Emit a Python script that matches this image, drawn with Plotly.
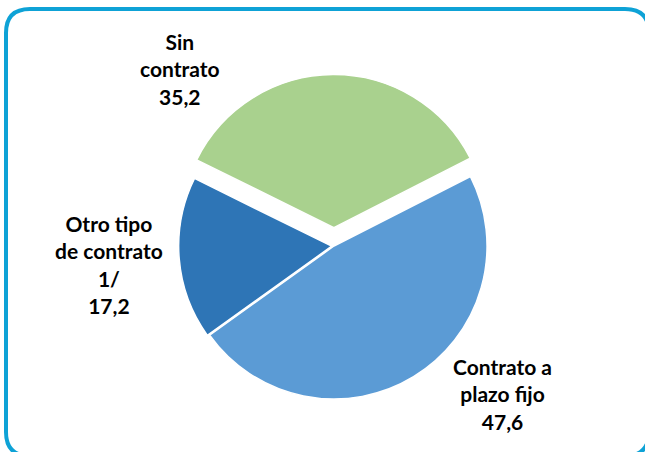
import plotly.graph_objects as go

# ---- data ----
labels = ["Contrato a plazo fijo", "Otro tipo de contrato 1/", "Sin contrato"]
values = [47.6, 17.2, 35.2]
label_lines = ["Contrato a<br>plazo fijo", "Otro tipo<br>de contrato<br>1/", "Sin<br>contrato"]
colors = ["#5B9BD5", "#2E75B6", "#A9D18E"]
pulls = [0.0, 0.015, 0.12]
title_text = "(Porcentaje)"

W, H = 645, 452

def fx(px):
    return px / W

def fy(py):
    return 1 - py / H

# pie placement (pixels)
cx, cy, half = 334, 246, 171.4

fig = go.Figure()
fig.add_trace(go.Pie(
    labels=labels,
    values=values,
    sort=False,
    direction="clockwise",
    rotation=63,
    pull=pulls,
    marker=dict(colors=colors, line=dict(color="white", width=1.5)),
    textinfo="none",
    hoverinfo="label+value",
    showlegend=False,
    domain=dict(x=[fx(cx - half), fx(cx + half)], y=[fy(cy + half), fy(cy - half)]),
))

# label positions (pixels, centre of text block)
label_pos = [(502, 394), (109, 264), (180, 69)]
for i, (lx, ly) in enumerate(label_pos):
    txt = label_lines[i] + "<br>" + f"{values[i]:.1f}".replace(".", ",")
    fig.add_annotation(
        x=fx(lx), y=fy(ly), xref="paper", yref="paper",
        xanchor="center", yanchor="middle",
        text=txt, showarrow=False, align="center",
        font=dict(family="Lato", size=21, color="#000000", weight="bold"),
    )

# partly hidden title at top
fig.add_annotation(
    x=fx(331), y=fy(2), xref="paper", yref="paper",
    xanchor="center", yanchor="bottom",
    text=title_text, showarrow=False,
    font=dict(family="Lato", size=17, color="#000000"),
)

# rounded border
L, T, R, B, r = 6, 9, 649, 456, 24
path = (
    f"M {fx(L)},{fy(T + r)} Q {fx(L)},{fy(T)} {fx(L + r)},{fy(T)} "
    f"L {fx(R - r)},{fy(T)} Q {fx(R)},{fy(T)} {fx(R)},{fy(T + r)} "
    f"L {fx(R)},{fy(B - r)} Q {fx(R)},{fy(B)} {fx(R - r)},{fy(B)} "
    f"L {fx(L + r)},{fy(B)} Q {fx(L)},{fy(B)} {fx(L)},{fy(B - r)} Z"
)
fig.add_shape(type="path", path=path, xref="paper", yref="paper",
              line=dict(color="#0EA2D6", width=4))

fig.update_layout(
    width=W, height=H,
    margin=dict(l=0, r=0, t=0, b=0),
    paper_bgcolor="white",
    plot_bgcolor="white",
)

fig.write_html("out.html")
